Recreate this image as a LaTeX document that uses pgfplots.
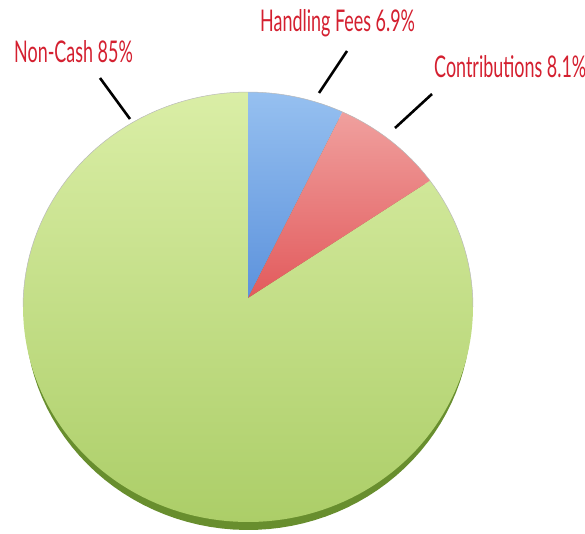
\documentclass[border=0pt]{standalone}
\usepackage{pgfplots}
\pgfplotsset{compat=1.18}
\usepackage{fontspec}
\setmainfont[FakeStretch=0.6]{Lato}
\definecolor{lblred}{RGB}{212,32,48}
\definecolor{gLight}{RGB}{218,238,166}
\definecolor{gDark}{RGB}{172,206,104}
\definecolor{gRim}{RGB}{104,142,46}
\definecolor{bLight}{RGB}{150,192,240}
\definecolor{bDark}{RGB}{92,146,220}
\definecolor{rLight}{RGB}{240,160,158}
\definecolor{rDark}{RGB}{226,90,92}
% data (percent)
\def\vHandling{6.9}
\def\vContrib{8.1}
\def\vNonCash{85}
% geometry (pixel units)
\def\cx{248}\def\cy{307}\def\rx{225}\def\ry{215}
\def\px{248}\def\py{298}
\pgfmathsetmacro\aA{90}
\pgfmathsetmacro\aB{\aA-3.6*\vHandling}
\pgfmathsetmacro\aC{\aB-3.6*\vContrib}
\pgfmathsetmacro\aD{\aC-3.6*\vNonCash}
\begin{document}
\begin{tikzpicture}
\begin{axis}[
  width=585bp, height=534bp, scale only axis,
  xmin=0, xmax=585, ymin=0, ymax=534, y dir=reverse,
  hide axis, clip=false,
]
% rim / shadow
\addplot[draw=none, fill=gRim, domain=0:360, samples=120, variable=\t]
  ({\cx + (\rx-2)*cos(\t)}, {\cy + 8 - \ry*sin(\t)}) -- cycle;
% Non-Cash
\addplot[draw=none, top color=gLight, bottom color=gDark, domain=\aD:\aC, samples=150, variable=\t]
  ({\cx + \rx*cos(\t)}, {\cy - \ry*sin(\t)}) -- (axis cs:\px,\py) -- cycle;
% Handling fees
\addplot[draw=none, top color=bLight, bottom color=bDark, domain=\aB:\aA, samples=30, variable=\t]
  ({\cx + \rx*cos(\t)}, {\cy - \ry*sin(\t)}) -- (axis cs:\px,\py) -- cycle;
% Contributions
\addplot[draw=none, top color=rLight, bottom color=rDark, domain=\aC:\aB, samples=30, variable=\t]
  ({\cx + \rx*cos(\t)}, {\cy - \ry*sin(\t)}) -- (axis cs:\px,\py) -- cycle;
% outline
\addplot[draw=gray!55, line width=0.5bp, domain=0:180, samples=80, variable=\t]
  ({\cx + \rx*cos(\t)}, {\cy - \ry*sin(\t)});
% leader lines
\addplot[black, line width=2.6bp] coordinates {(319,93) (347,51)};
\addplot[black, line width=2.6bp] coordinates {(395,128) (432,94)};
\addplot[black, line width=2.6bp] coordinates {(100,78) (130,119)};
% labels
\node[anchor=base west, inner sep=0pt, text=lblred, font=\fontsize{30}{32}\selectfont] at (axis cs:260,32) {Handling Fees 6.9\%};
\node[anchor=base west, inner sep=0pt, text=lblred, font=\fontsize{30}{32}\selectfont] at (axis cs:434,78) {Contributions 8.1\%};
\node[anchor=base west, inner sep=0pt, text=lblred, font=\fontsize{30}{32}\selectfont] at (axis cs:14,63) {Non-Cash 85\%};
\end{axis}
\pgfresetboundingbox
\path (current axis.south west) rectangle (current axis.north east);
\end{tikzpicture}
\end{document}
